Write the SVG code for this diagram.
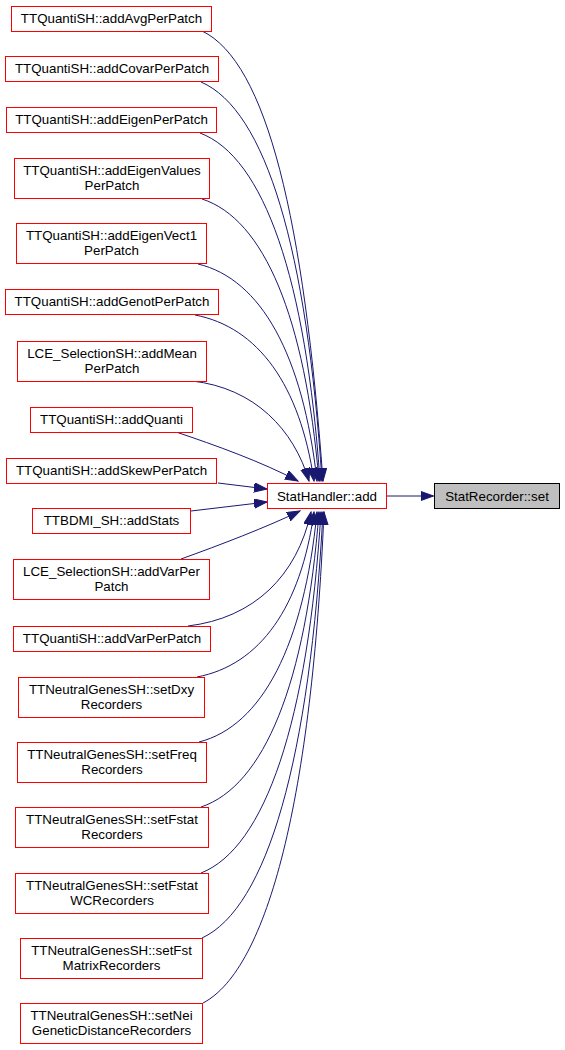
<svg xmlns="http://www.w3.org/2000/svg" width="565" height="1050" viewBox="0 0 565 1050">
<style>
.n rect{fill:#fff;stroke:#ff0000;stroke-width:1}
.g rect{fill:#bfbfbf;stroke:#000;stroke-width:1}
text{font-family:"Liberation Sans",Arial,Helvetica,sans-serif;font-size:13.33px;fill:#000;text-anchor:middle}
.e path{fill:none;stroke:#191970;stroke-width:1;marker-end:url(#ah)}
</style>
<defs>
<marker id="ah" markerUnits="userSpaceOnUse" markerWidth="14" markerHeight="10" refX="13" refY="4.7" orient="auto">
<path d="M0,0 L13,4.7 L0,9.4 z" fill="#191970" stroke="#191970" stroke-width="1"/>
</marker>
</defs>
<rect width="565" height="1050" fill="#fff"/>
<g class="e" id="edges">
<path d="M202,31 C267,62 304,220 323,481"/>
<path d="M201,82 C266,110 307,250 322,481"/>
<path d="M200,133 C264,157 306,279 320,481"/>
<path d="M202,199 C264,219 305,317 319,481"/>
<path d="M198,264 C261,279 303,355 317,481"/>
<path d="M195,315 C258,327 300,385 314,481"/>
<path d="M192,381 C255,388 294,430 309,481"/>
<path d="M176,432 C215,445 262,462 298,481"/>
<path d="M218,483 L267,489"/>
<path d="M191,511 L267,502"/>
<path d="M181,559 C220,545 267,527 300,511"/>
<path d="M188,626 C254,618 297,576 311,512"/>
<path d="M197,677 C260,665 301,607 314,512"/>
<path d="M199,742 C262,726 304,645 317,512"/>
<path d="M201,807 C264,786 306,683 319,512"/>
<path d="M201,873 C265,848 308,721 321,512"/>
<path d="M202,938 C267,908 310,759 323,512"/>
<path d="M203,1003 C268,969 312,796 324,512"/>
<path d="M386.5,496 L433.5,496"/>
</g>
<g class="n" id="hub"><rect x="267.5" y="483.5" width="119" height="25"/><text x="327" y="500.5">StatHandler::add</text></g>
<g class="g" id="statrecorder_set"><rect x="434.5" y="483.5" width="125" height="25"/><text x="497" y="500.5">StatRecorder::set</text></g>
<g class="n" id="n1"><rect x="11.5" y="6.5" width="200" height="25"/><text x="111.5" y="23">TTQuantiSH::addAvgPerPatch</text></g>
<g class="n" id="n2"><rect x="5.5" y="56.5" width="213" height="25"/><text x="112" y="73">TTQuantiSH::addCovarPerPatch</text></g>
<g class="n" id="n3"><rect x="6.5" y="107.5" width="210" height="25"/><text x="111.5" y="124">TTQuantiSH::addEigenPerPatch</text></g>
<g class="n" id="n4"><rect x="14.5" y="158.5" width="195" height="40"/><text x="112" y="175">TTQuantiSH::addEigenValues</text><text x="112" y="189.5">PerPatch</text></g>
<g class="n" id="n5"><rect x="16.5" y="223.5" width="190" height="40"/><text x="111.5" y="240">TTQuantiSH::addEigenVect1</text><text x="111.5" y="254.5">PerPatch</text></g>
<g class="n" id="n6"><rect x="5.5" y="289.5" width="213" height="25"/><text x="112" y="306">TTQuantiSH::addGenotPerPatch</text></g>
<g class="n" id="n7"><rect x="17.5" y="341.5" width="189" height="40"/><text x="112" y="358">LCE_SelectionSH::addMean</text><text x="112" y="372.5">PerPatch</text></g>
<g class="n" id="n8"><rect x="30.5" y="407.5" width="162" height="25"/><text x="111.5" y="424">TTQuantiSH::addQuanti</text></g>
<g class="n" id="n9"><rect x="6.5" y="458.5" width="210" height="25"/><text x="111.5" y="475">TTQuantiSH::addSkewPerPatch</text></g>
<g class="n" id="n10"><rect x="32.5" y="508.5" width="158" height="25"/><text x="111.5" y="525">TTBDMI_SH::addStats</text></g>
<g class="n" id="n11"><rect x="13.5" y="559.5" width="196" height="40"/><text x="111.5" y="576">LCE_SelectionSH::addVarPer</text><text x="111.5" y="590.5">Patch</text></g>
<g class="n" id="n12"><rect x="13.5" y="626.5" width="197" height="25"/><text x="112" y="643">TTQuantiSH::addVarPerPatch</text></g>
<g class="n" id="n13"><rect x="18.5" y="677.5" width="186" height="40"/><text x="111.5" y="694">TTNeutralGenesSH::setDxy</text><text x="111.5" y="708.5">Recorders</text></g>
<g class="n" id="n14"><rect x="17.5" y="742.5" width="189" height="40"/><text x="112" y="759">TTNeutralGenesSH::setFreq</text><text x="112" y="773.5">Recorders</text></g>
<g class="n" id="n15"><rect x="15.5" y="807.5" width="193" height="40"/><text x="112" y="824">TTNeutralGenesSH::setFstat</text><text x="112" y="838.5">Recorders</text></g>
<g class="n" id="n16"><rect x="15.5" y="873.5" width="193" height="40"/><text x="112" y="890">TTNeutralGenesSH::setFstat</text><text x="112" y="904.5">WCRecorders</text></g>
<g class="n" id="n17"><rect x="20.5" y="938.5" width="182" height="40"/><text x="111.5" y="955">TTNeutralGenesSH::setFst</text><text x="111.5" y="969.5">MatrixRecorders</text></g>
<g class="n" id="n18"><rect x="20.5" y="1003.5" width="182" height="40"/><text x="111.5" y="1020">TTNeutralGenesSH::setNei</text><text x="111.5" y="1034.5">GeneticDistanceRecorders</text></g>
</svg>
